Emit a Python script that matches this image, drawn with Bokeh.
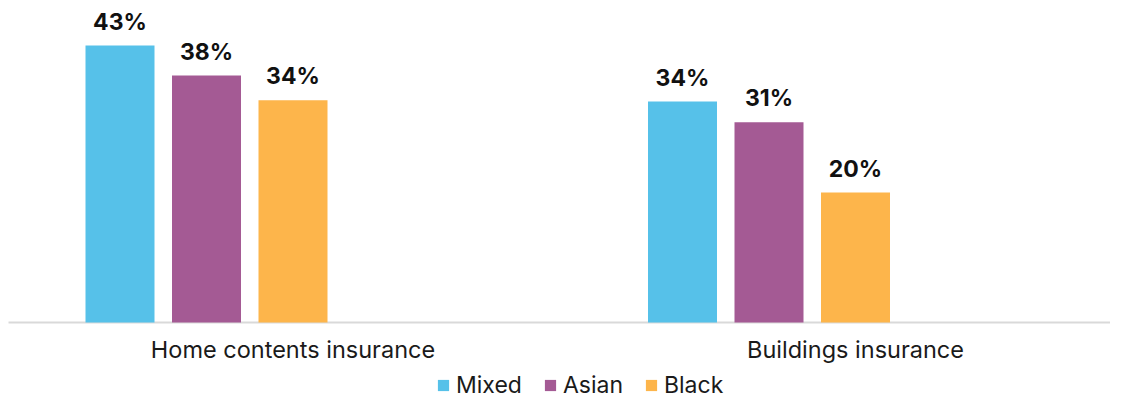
from bokeh.plotting import figure
from bokeh.models import ColumnDataSource, Range1d, Legend, LegendItem
from bokeh.core.properties import value
from bokeh.embed import file_html
from bokeh.resources import INLINE

categories = ["Home contents insurance", "Buildings insurance"]
series = ["Mixed", "Asian", "Black"]
mixed = [42.6, 34.0]
asian = [38.0, 30.8]
black = [34.2, 20.0]
values_by_series = [mixed, asian, black]
colors = ["#56C1E9", "#A45A94", "#FDB54B"]

FONT = "Inter"
N_SLOTS = 5          # chart reserves 5 series slots per category
CAT_PX = 562.5       # pixels per category
PITCH = 86.5 / CAT_PX
BAR_W = 69 / CAT_PX
PX_PER_UNIT_Y = 6.5
W, H = 1110, 400
BASE_PX = 322        # baseline distance from top
X0 = 0.5 - 292.5 / CAT_PX

p = figure(width=W, height=H, output_backend="svg", toolbar_location=None,
           x_range=Range1d(X0, X0 + W / CAT_PX),
           y_range=Range1d(-(H - BASE_PX) / PX_PER_UNIT_Y, BASE_PX / PX_PER_UNIT_Y),
           x_axis_location=None, y_axis_location=None, min_border=0)
p.outline_line_color = None
p.grid.visible = False
p.background_fill_color = "white"

# baseline axis line
p.segment(x0=[X0 + 8 / CAT_PX], y0=[0], x1=[len(categories) + 1], y1=[0],
          line_color="#D9D9D9", line_width=2)

centers = [i + 0.5 for i in range(len(categories))]
items = []
for j, (name, vals, col) in enumerate(zip(series, values_by_series, colors)):
    xs = [c + (j - (N_SLOTS - 1) / 2) * PITCH for c in centers]
    src = ColumnDataSource(dict(x=xs, top=vals, lab=[f"{round(v)}%" for v in vals]))
    r = p.vbar(x="x", top="top", bottom=0, width=BAR_W, source=src,
               fill_color=col, line_color=None)
    p.text(x="x", y="top", text="lab", source=src, text_align="center",
           text_baseline="alphabetic", y_offset=-24, text_font=value(FONT),
           text_font_style="bold", text_font_size="23px", text_color="#111111")
    items.append(LegendItem(label=name, renderers=[r]))

csrc = ColumnDataSource(dict(x=centers, y=[0] * len(categories), t=categories))
p.text(x="x", y="y", text="t", source=csrc, text_align="center", text_baseline="middle",
       y_offset=27, text_font=value(FONT), text_font_size="23.5px", text_color="#1a1a1a")

legend = Legend(items=items, orientation="horizontal", location=(436, 1),
                glyph_width=14, glyph_height=14, label_standoff=6, spacing=21,
                padding=0, margin=0, border_line_color=None, background_fill_alpha=0,
                label_text_font=FONT, label_text_font_size="23px", label_text_color="#1a1a1a",
                label_height=20)
p.add_layout(legend)

open("out.html", "w").write(file_html(p, INLINE))
